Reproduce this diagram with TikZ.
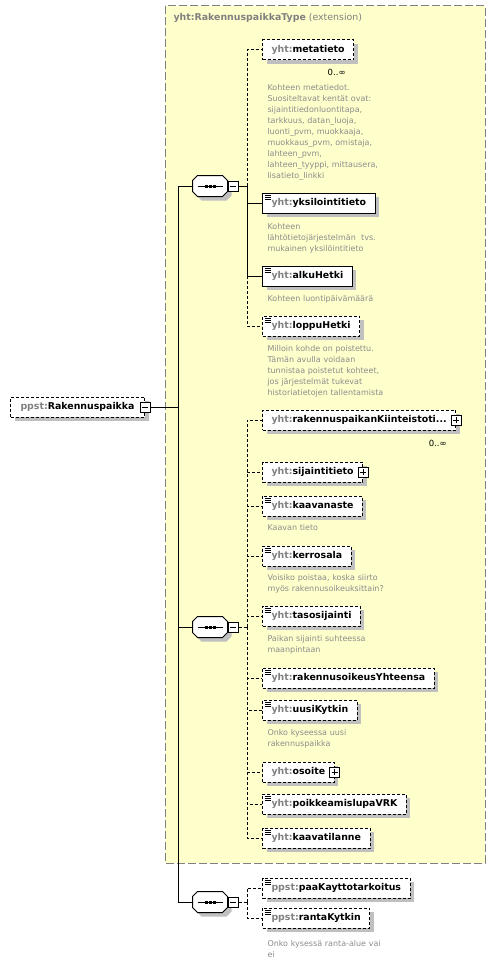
\documentclass[tikz,border=0pt]{standalone}
\usepackage{fontspec}
\setmainfont{DejaVu Sans}
\usetikzlibrary{shadows}
\definecolor{yfill}{RGB}{255,255,204}
\definecolor{pfxgray}{RGB}{128,128,128}
\definecolor{docgray}{RGB}{140,140,140}
\definecolor{shadowgray}{RGB}{192,192,192}
\newcommand{\yht}{\textcolor{pfxgray}{yht:}}
\newcommand{\ppst}{\textcolor{pfxgray}{ppst:}}
% octagon of a sequence compositor, drawn round a named node
\newcommand{\seqshape}[1]{%
  \fill[shadowgray, transform canvas={shift={(4pt,-4pt)}}]
    ([xshift=5pt]#1.north west) -- ([xshift=-5pt]#1.north east) -- ([yshift=-5pt]#1.north east)
    -- ([yshift=5pt]#1.south east) -- ([xshift=-5pt]#1.south east) -- ([xshift=5pt]#1.south west)
    -- ([yshift=5pt]#1.south west) -- ([yshift=-5pt]#1.north west) -- cycle;
  \draw[fill=white]
    ([xshift=5pt]#1.north west) -- ([xshift=-5pt]#1.north east) -- ([yshift=-5pt]#1.north east)
    -- ([yshift=5pt]#1.south east) -- ([xshift=-5pt]#1.south east) -- ([xshift=5pt]#1.south west)
    -- ([yshift=5pt]#1.south west) -- ([yshift=-5pt]#1.north west) -- cycle;
  \draw ([xshift=5pt]#1.west) -- ([xshift=-5pt]#1.east);
  \foreach \dx in {-4,0,4}
    \fill ([xshift=\dx pt-1.5pt, yshift=-1.5pt]#1.center) rectangle ([xshift=\dx pt+1.5pt, yshift=1.5pt]#1.center);}
\tikzset{
  elem/.style={draw, fill=white, anchor=west, minimum height=20pt, inner xsep=9pt, inner ysep=0pt,
    font=\fontsize{9.4}{11}\selectfont\bfseries,
    drop shadow={shadow xshift=4pt, shadow yshift=-4pt, fill=shadowgray, opacity=1}},
  opt/.style={dash pattern=on 3pt off 2pt},
  docicon/.style={path picture={
    \foreach \dy in {2,4,6}
      \draw[solid, line width=0.8pt] ([xshift=2pt,yshift=-\dy pt]path picture bounding box.north west) -- ++(6pt,0);}},
  doc/.style={anchor=base west, inner sep=0pt, text width=170pt, align=left, text=docgray,
    font=\fontsize{8}{11}\selectfont},
  mult/.style={anchor=east, inner sep=0pt, font=\fontsize{8.5}{10}\selectfont},
  ctl/.style={draw, solid, fill=white, minimum size=10pt, inner sep=0pt},
  ctlminus/.style={ctl, path picture={
    \draw ([xshift=2pt]path picture bounding box.west) -- ([xshift=-2pt]path picture bounding box.east);}},
  ctlplus/.style={ctl, path picture={
    \draw ([xshift=2pt]path picture bounding box.west) -- ([xshift=-2pt]path picture bounding box.east);
    \draw ([yshift=2pt]path picture bounding box.south) -- ([yshift=-2pt]path picture bounding box.north);}},
  seqbox/.style={minimum width=34pt, minimum height=20pt, inner sep=0pt},
  extbox/.style={draw=pfxgray, fill=yfill, dash pattern=on 8pt off 3pt}
}
\begin{document}
\begin{tikzpicture}[x=1pt, y=-1pt, line width=1pt]
  \useasboundingbox (0,0) rectangle (495,963);
  % extension area
  \draw[extbox] (165,6) rectangle (485,863);
  \node[anchor=west, inner sep=0pt, text=pfxgray, font=\fontsize{9.4}{11}\selectfont] (title) at (173,18)
    {\textbf{yht:RakennuspaikkaType} (extension)};

  % root
  \node[elem, opt, inner xsep=10pt] (root) at (10,407) {\ppst Rakennuspaikka\hspace{2pt}};
  \node[ctlminus] (rootm) at (root.east) {};

  % sequences
  \node[seqbox] (seq1) at (210,186) {};
  \seqshape{seq1}
  \node[ctlminus, anchor=west] (seq1m) at (seq1.east) {};
  \node[seqbox] (seq2) at (210,627) {};
  \seqshape{seq2}
  \node[ctlminus, anchor=west] (seq2m) at (seq2.east) {};
  \node[seqbox] (seq3) at (210,902) {};
  \seqshape{seq3}
  \node[ctlminus, anchor=west] (seq3m) at (seq3.east) {};

  % first sequence
  \node[elem, opt] (meta) at (262,50) {\yht metatieto};
  \node[mult] at ([xshift=-8pt,yshift=-12pt]meta.south east) {0..∞};
  \node[doc] at (267,91) {Kohteen metatiedot.\\ Suositeltavat kentät ovat:\\ sijaintitiedonluontitapa,\\
    tarkkuus, datan\_luoja,\\ luonti\_pvm, muokkaaja,\\ muokkaus\_pvm, omistaja,\\ lahteen\_pvm,\\
    lahteen\_tyyppi, mittausera,\\ lisatieto\_linkki};
  \node[elem, docicon] (yks) at (262,203) {\yht yksilointitieto};
  \node[doc] at (267,229) {Kohteen\\ lähtötietojärjestelmän\ \ tvs.\\ mukainen yksilöintitieto};
  \node[elem, docicon] (alku) at (262,276) {\yht alkuHetki};
  \node[doc] at (267,301) {Kohteen luontipäivämäärä};
  \node[elem, opt, docicon] (loppu) at (262,326) {\yht loppuHetki};
  \node[doc] at (267,351) {Milloin kohde on poistettu.\\ Tämän avulla voidaan\\ tunnistaa poistetut kohteet,\\
    jos järjestelmät tukevat\\ historiatietojen tallentamista};

  % second sequence
  \node[elem, opt] (kiint) at (262,420) {\yht rakennuspaikanKiinteistoti...\hspace{2pt}};
  \node[ctlplus] at (kiint.east) {};
  \node[mult] at ([xshift=-9pt,yshift=-13pt]kiint.south east) {0..∞};
  \node[elem, opt] (sijainti) at (262,472) {\yht sijaintitieto\hspace{2pt}};
  \node[ctlplus] at (sijainti.east) {};
  \node[elem, opt, docicon] (kaavanaste) at (262,506) {\yht kaavanaste};
  \node[doc] at (267,530) {Kaavan tieto};
  \node[elem, opt, docicon] (kerrosala) at (262,556) {\yht kerrosala};
  \node[doc] at (267,580) {Voisiko poistaa, koska siirto\\ myös rakennusoikeuksittain?};
  \node[elem, opt, docicon] (taso) at (262,616) {\yht tasosijainti};
  \node[doc] at (267,641) {Paikan sijainti suhteessa\\ maanpintaan};
  \node[elem, opt, docicon] (oikeus) at (262,678) {\yht rakennusoikeusYhteensa};
  \node[elem, opt, docicon] (uusi) at (262,710) {\yht uusiKytkin};
  \node[doc] at (267,735) {Onko kyseessa uusi\\ rakennuspaikka};
  \node[elem, opt] (osoite) at (262,772) {\yht osoite\hspace{2pt}};
  \node[ctlplus] at (osoite.east) {};
  \node[elem, opt, docicon] (poikk) at (262,804) {\yht poikkeamislupaVRK};
  \node[elem, opt, docicon] (kaavatil) at (262,838) {\yht kaavatilanne};

  % third sequence
  \node[elem, opt, docicon] (paak) at (262,888) {\ppst paaKayttotarkoitus};
  \node[elem, opt, docicon] (ranta) at (262,918) {\ppst rantaKytkin};
  \node[doc] at (267,946) {Onko kysessä ranta-alue vai\\ ei};

  % connectors
  \coordinate (trunk) at (178,407);
  \draw (rootm.east) -- (trunk);
  \draw (seq1.west) -| (trunk);
  \draw (seq2.west) -| (trunk);
  \draw (seq3.west) -| (trunk);

  \coordinate (bus1) at (247,186);
  \draw (seq1m.east) -- (bus1);
  \draw (bus1) |- (yks.west);
  \draw (bus1) |- (alku.west);
  \draw[opt] (bus1) |- (meta.west);
  \draw[opt] (alku.west -| bus1) |- (loppu.west);

  \coordinate (bus2) at (247,627);
  \draw[opt] (seq2m.east) -- (bus2);
  \foreach \n in {kiint,sijainti,kaavanaste,kerrosala,taso,oikeus,uusi,osoite,poikk,kaavatil}
    \draw[opt] (bus2) |- (\n.west);

  \coordinate (bus3) at (247,902);
  \draw[opt] (seq3m.east) -- (bus3);
  \draw[opt] (bus3) |- (paak.west);
  \draw[opt] (bus3) |- (ranta.west);
\end{tikzpicture}
\end{document}
